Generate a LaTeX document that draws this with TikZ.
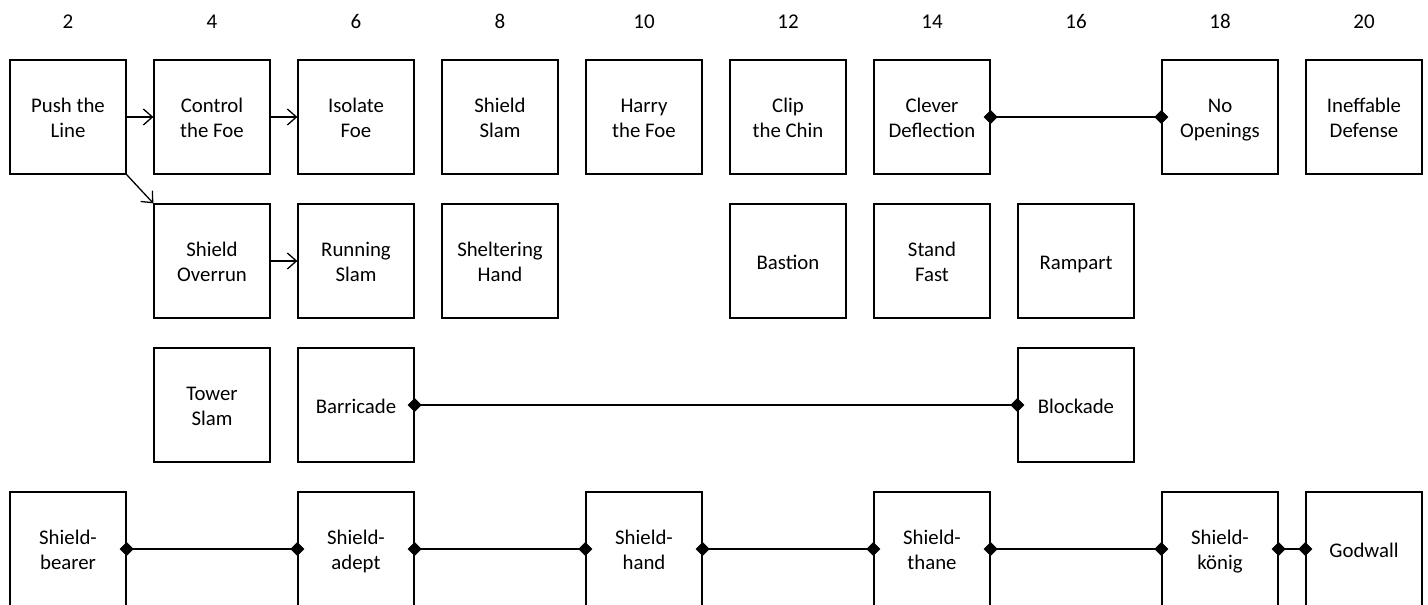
\documentclass[tikz,border=0pt]{standalone}
\usepackage{fontspec}
\setmainfont{Carlito}
\usetikzlibrary{arrows.meta}
\newcommand\bxstrut{\rule[-4.5pt]{0pt}{25pt}}
\newcommand\twol[2]{\bxstrut#1\\\bxstrut#2}
\newcommand\onel[1]{\bxstrut#1}
\begin{document}
\begin{tikzpicture}[x=1pt,y=-1pt,
  box/.style={draw,line width=1.3pt,minimum width=116pt,minimum height=114pt,inner sep=0pt,align=center,font=\fontsize{20.8}{25}\selectfont},
  lab/.style={font=\fontsize{21}{25}\selectfont,anchor=base,inner sep=0pt},
  arr/.style={line width=1.3pt,-{Straight Barb[length=9pt,width=16pt,line width=1.3pt]}},
  dia/.style={line width=1.3pt,{Diamond[length=14pt,width=14pt]}-{Diamond[length=14pt,width=14pt]},shorten <=-7pt,shorten >=-7pt}]
\useasboundingbox (0,0) rectangle (1428,605);
\foreach \n [count=\i from 0] in {2,4,6,8,10,12,14,16,18,20}
  \node[lab] (h\n) at (68+144*\i,28) {\n};
% row 1
\node[box] (push) at (68,117) {\twol{Push the}{Line}};
\node[box] (control) at (212,117) {\twol{Control}{the Foe}};
\node[box] (isolate) at (356,117) {\twol{Isolate}{Foe}};
\node[box] (sslam) at (500,117) {\twol{Shield}{Slam}};
\node[box] (harry) at (644,117) {\twol{Harry}{the Foe}};
\node[box] (clip) at (788,117) {\twol{Clip}{the Chin}};
\node[box] (clever) at (932,117) {\twol{Clever}{Deflection}};
\node[box] (noopen) at (1220,117) {\twol{No}{Openings}};
\node[box] (ineff) at (1364,117) {\twol{Ineffable}{Defense}};
% row 2
\node[box] (overrun) at (212,261) {\twol{Shield}{Overrun}};
\node[box] (running) at (356,261) {\twol{Running}{Slam}};
\node[box] (shelter) at (500,261) {\twol{Sheltering}{Hand}};
\node[box] (bastion) at (788,261) {\onel{Bastion}};
\node[box] (stand) at (932,261) {\twol{Stand}{Fast}};
\node[box] (rampart) at (1076,261) {\onel{Rampart}};
% row 3
\node[box] (tower) at (212,405) {\twol{Tower}{Slam}};
\node[box] (barricade) at (356,405) {\onel{Barricade}};
\node[box] (blockade) at (1076,405) {\onel{Blockade}};
% row 4
\node[box] (bearer) at (68,549) {\twol{Shield-}{bearer}};
\node[box] (adept) at (356,549) {\twol{Shield-}{adept}};
\node[box] (hand) at (644,549) {\twol{Shield-}{hand}};
\node[box] (thane) at (932,549) {\twol{Shield-}{thane}};
\node[box] (konig) at (1220,549) {\twol{Shield-}{könig}};
\node[box] (godwall) at (1364,549) {\onel{Godwall}};
% connectors
\draw[arr] (push.east) -- (control.west);
\draw[arr] (control.east) -- (isolate.west);
\draw[arr] (push.south east) -- (overrun.north west);
\draw[arr] (overrun.east) -- (running.west);
\draw[dia] (clever.east) -- (noopen.west);
\draw[dia] (barricade.east) -- (blockade.west);
\draw[dia] (bearer.east) -- (adept.west);
\draw[dia] (adept.east) -- (hand.west);
\draw[dia] (hand.east) -- (thane.west);
\draw[dia] (thane.east) -- (konig.west);
\draw[dia] (konig.east) -- (godwall.west);
\end{tikzpicture}
\end{document}
